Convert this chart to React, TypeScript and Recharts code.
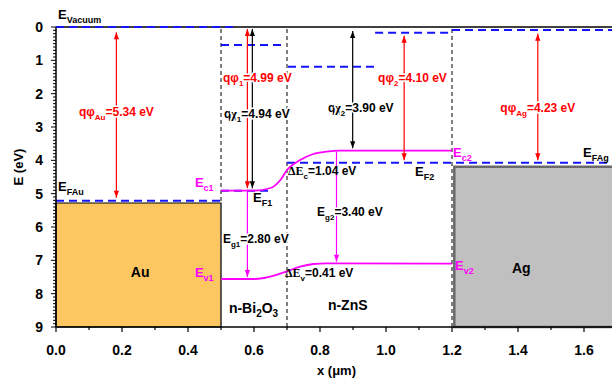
import React from "react";
import {
  ComposedChart,
  Line,
  XAxis,
  YAxis,
  ReferenceLine,
  ReferenceArea,
  ReferenceDot,
} from "recharts";

// band edges (x in um, e in eV below vacuum)
const ecBand = [
  { x: 0.5, e: 4.91 },
  { x: 0.6, e: 4.91 },
  { x: 0.65, e: 4.83 },
  { x: 0.68, e: 4.59 },
  { x: 0.7, e: 4.29 },
  { x: 0.74, e: 3.99 },
  { x: 0.78, e: 3.81 },
  { x: 0.82, e: 3.74 },
  { x: 0.86, e: 3.71 },
  { x: 1.2, e: 3.71 },
];

const evBand = [
  { x: 0.5, e: 7.56 },
  { x: 0.6, e: 7.56 },
  { x: 0.63, e: 7.53 },
  { x: 0.66, e: 7.46 },
  { x: 0.7, e: 7.33 },
  { x: 0.74, e: 7.19 },
  { x: 0.78, e: 7.11 },
  { x: 0.82, e: 7.09 },
  { x: 1.2, e: 7.1 },
];

const vacuumLevels = [
  { x1: 0, x2: 0.536, e: 0 },
  { x1: 0.5, x2: 0.694, e: 0.54 },
  { x1: 0.703, x2: 0.967, e: 1.19 },
  { x1: 0.967, x2: 1.2, e: 0.17 },
  { x1: 1.2, x2: 1.7, e: 0.09 },
];

const fermiLevels = [
  { x1: 0, x2: 0.5, e: 5.21 },
  { x1: 0.5, x2: 0.655, e: 4.91 },
  { x1: 0.7, x2: 1.7, e: 4.07 },
];

const metals = [
  { x1: 0, x2: 0.5, top: 5.28, bottom: 9, fill: "#FCC660", stroke: "#000" },
  { x1: 1.207, x2: 1.7, top: 4.19, bottom: 9, fill: "#C0C0C0", stroke: "#6a6a6a" },
];

const interfaces = [0.5, 0.7, 1.2];

const arrows = [
  { x: 0.183, e1: 0.16, e2: 5.12, color: "#FF0000", both: true },
  { x: 0.58, e1: 0.06, e2: 4.84, color: "#FF0000", both: true },
  { x: 0.595, e1: 0.06, e2: 4.84, color: "#000000", both: true },
  { x: 0.899, e1: 0.12, e2: 3.64, color: "#000000", both: true },
  { x: 1.055, e1: 0.26, e2: 4.0, color: "#FF0000", both: true },
  { x: 1.46, e1: 0.2, e2: 4.0, color: "#FF0000", both: true },
  { x: 0.58, e1: 4.95, e2: 7.5, color: "#FF00FF", both: false },
  { x: 0.85, e1: 3.74, e2: 7.04, color: "#FF00FF", both: false },
];

type Part = { t: string; sub?: boolean; serif?: boolean };

const labels: { x: number; e: number; parts: Part[]; color: string; size: number; anchor?: string; halo?: boolean }[] = [
  { x: 0.006, e: -0.24, parts: [{ t: "E" }, { t: "Vacuum", sub: true }], color: "#000", size: 13 },
  { x: 0.006, e: 4.92, parts: [{ t: "E" }, { t: "FAu", sub: true }], color: "#000", size: 13 },
  { x: 0.183, e: 2.67, parts: [{ t: "qφ" }, { t: "Au", sub: true }, { t: "=5.34 eV" }], color: "#FF0000", size: 12, anchor: "middle", halo: true },
  { x: 0.506, e: 1.65, parts: [{ t: "qφ" }, { t: "1", sub: true }, { t: "=4.99 eV" }], color: "#FF0000", size: 12, halo: true },
  { x: 0.509, e: 2.73, parts: [{ t: "q" }, { t: "χ", serif: true }, { t: "1", sub: true }, { t: "=4.94 eV" }], color: "#000", size: 12, halo: true },
  { x: 0.824, e: 2.55, parts: [{ t: "q" }, { t: "χ", serif: true }, { t: "2", sub: true }, { t: "=3.90 eV" }], color: "#000", size: 12, halo: true },
  { x: 0.976, e: 1.65, parts: [{ t: "qφ" }, { t: "2", sub: true }, { t: "=4.10 eV" }], color: "#FF0000", size: 12, halo: true },
  { x: 1.46, e: 2.55, parts: [{ t: "qφ" }, { t: "Ag", sub: true }, { t: "=4.23 eV" }], color: "#FF0000", size: 12, anchor: "middle", halo: true },
  { x: 0.421, e: 4.8, parts: [{ t: "E" }, { t: "c1", sub: true }], color: "#FF00FF", size: 13 },
  { x: 0.421, e: 7.5, parts: [{ t: "E" }, { t: "v1", sub: true }], color: "#FF00FF", size: 13 },
  { x: 0.597, e: 5.25, parts: [{ t: "E" }, { t: "F1", sub: true }], color: "#000", size: 13 },
  { x: 1.088, e: 4.47, parts: [{ t: "E" }, { t: "F2", sub: true }], color: "#000", size: 13 },
  { x: 1.203, e: 3.9, parts: [{ t: "E" }, { t: "c2", sub: true }], color: "#FF00FF", size: 13 },
  { x: 1.597, e: 3.9, parts: [{ t: "E" }, { t: "FAg", sub: true }], color: "#000", size: 13 },
  { x: 1.209, e: 7.29, parts: [{ t: "E" }, { t: "v2", sub: true }], color: "#FF00FF", size: 13 },
  { x: 0.703, e: 4.44, parts: [{ t: "ΔE", serif: true }, { t: "c", sub: true }, { t: "=1.04 eV" }], color: "#000", size: 12 },
  { x: 0.694, e: 7.5, parts: [{ t: "ΔE", serif: true }, { t: "v", sub: true }, { t: "=0.41 eV" }], color: "#000", size: 12 },
  { x: 0.506, e: 6.48, parts: [{ t: "E" }, { t: "g1", sub: true }, { t: "=2.80 eV" }], color: "#000", size: 12, halo: true },
  { x: 0.791, e: 5.67, parts: [{ t: "E" }, { t: "g2", sub: true }, { t: "=3.40 eV" }], color: "#000", size: 12, halo: true },
  { x: 0.255, e: 7.5, parts: [{ t: "Au" }], color: "#000", size: 14, anchor: "middle" },
  { x: 1.41, e: 7.38, parts: [{ t: "Ag" }], color: "#000", size: 14, anchor: "middle" },
  { x: 0.524, e: 8.58, parts: [{ t: "n-Bi" }, { t: "2", sub: true }, { t: "O" }, { t: "3", sub: true }], color: "#000", size: 14 },
  { x: 0.824, e: 8.49, parts: [{ t: "n-ZnS" }], color: "#000", size: 14 },
];

const xTicks = [0, 0.1, 0.2, 0.3, 0.4, 0.5, 0.6, 0.7, 0.8, 0.9, 1.0, 1.1, 1.2, 1.3, 1.4, 1.5, 1.6, 1.7];
const yMajorTicks = [0, 1, 2, 3, 4, 5, 6, 7, 8, 9];
const yTicks: number[] = [];
yMajorTicks.forEach((v) => {
  for (let k = 0; k < 10 && v + k / 10 <= 9; k++) yTicks.push(Math.round((v + k / 10) * 10) / 10);
});

const FONT = "'Liberation Sans', Arial, sans-serif";

function RichText({ x, y, parts, color, size, anchor, halo }: any) {
  const sub = Math.round(size * 0.7);
  const shift = Math.round(size * 0.3);
  let down = false;
  return (
    <text
      x={x}
      y={y}
      fill={color}
      fontSize={size}
      fontWeight="bold"
      fontFamily={FONT}
      textAnchor={anchor || "start"}
      stroke={halo ? "#fff" : "none"}
      strokeWidth={halo ? 3 : 0}
      style={{ paintOrder: "stroke" }}
    >
      {parts.map((p: Part, i: number) => {
        let dy = 0;
        if (p.sub && !down) {
          dy = shift;
          down = true;
        } else if (!p.sub && down) {
          dy = -shift;
          down = false;
        }
        return (
          <tspan
            key={i}
            dy={dy}
            fontSize={p.sub ? sub : size}
            fontFamily={p.serif ? "'Liberation Serif', 'Times New Roman', serif" : FONT}
          >
            {p.t}
          </tspan>
        );
      })}
    </text>
  );
}

function arrowShape(color: string, both: boolean) {
  return (props: any) => {
    const { x1, y1, x2, y2 } = props;
    const hw = 2.6;
    const hl = 7;
    return (
      <g>
        <line x1={x1} y1={y1} x2={x2} y2={y2} stroke={color} strokeWidth={1.2} />
        {both && (
          <polygon points={`${x1},${y1} ${x1 - hw},${y1 + hl} ${x1 + hw},${y1 + hl}`} fill={color} />
        )}
        <polygon points={`${x2},${y2} ${x2 - hw},${y2 - hl} ${x2 + hw},${y2 - hl}`} fill={color} />
      </g>
    );
  };
}

function YTick(props: any) {
  const { x, y, payload } = props;
  const v = payload.value;
  const major = Math.abs(v - Math.round(v)) < 1e-6;
  return (
    <g>
      <line x1={x} x2={x - (major ? 5 : 3)} y1={y} y2={y} stroke="#000" strokeWidth={1} />
      {major && (
        <text x={x - 13} y={y} dy="0.36em" textAnchor="end" fontSize={14} fontWeight="bold" fontFamily={FONT} fill="#000">
          {Math.round(v)}
        </text>
      )}
    </g>
  );
}

function XTick(props: any) {
  const { x, y, payload } = props;
  const v = payload.value;
  const major = Math.round(v * 10) % 2 === 0;
  return (
    <g>
      <line x1={x} x2={x} y1={y} y2={y + (major ? 5 : 3)} stroke="#000" strokeWidth={1.2} />
      {major && (
        <text x={x} y={y + 28} textAnchor="middle" fontSize={14} fontWeight="bold" fontFamily={FONT} fill="#000">
          {v.toFixed(1)}
        </text>
      )}
    </g>
  );
}

export default function App() {
  return (
    <div
      style={{
        position: "absolute",
        left: 0,
        top: 0,
        width: 612,
        height: 385,
        overflow: "hidden",
        background: "#fff",
      }}
    >
      <ComposedChart width={630} height={385} margin={{ top: 27, right: 13, bottom: 28, left: 0 }}>
        <XAxis
          dataKey="x"
          type="number"
          domain={[0, 1.7]}
          ticks={xTicks}
          interval={0}
          tick={<XTick />}
          tickLine={false}
          tickSize={0}
          tickMargin={0}
          height={30}
          axisLine={{ stroke: "#000", strokeWidth: 1.5 }}
          allowDataOverflow
          label={{
            value: "x (μm)",
            position: "insideBottom",
            offset: -18,
            style: { fontSize: 13, fontWeight: "bold", fontFamily: FONT, fill: "#000" },
          }}
        />
        <YAxis
          type="number"
          reversed
          domain={[0, 9]}
          ticks={yTicks}
          interval={0}
          tick={<YTick />}
          tickLine={false}
          tickSize={0}
          tickMargin={0}
          width={56}
          axisLine={{ stroke: "#000", strokeWidth: 1.5 }}
          allowDataOverflow
          label={{
            content: (p: any) => {
              const vb = p.viewBox || { x: 0, y: 27, height: 300 };
              const cx = vb.x + 18;
              const cy = vb.y + vb.height / 2 - 10;
              return (
                <text
                  x={cx}
                  y={cy}
                  transform={`rotate(-90 ${cx} ${cy})`}
                  textAnchor="middle"
                  dy="0.35em"
                  fontSize={13}
                  fontWeight="bold"
                  fontFamily={FONT}
                  fill="#000"
                >
                  E (eV)
                </text>
              );
            },
          }}
        />

        {metals.map((m, i) => (
          <ReferenceArea
            key={"m" + i}
            x1={m.x1}
            x2={m.x2}
            y1={m.top}
            y2={m.bottom}
            fill={m.fill}
            fillOpacity={1}
            stroke={m.stroke}
            strokeWidth={i === 0 ? 1.2 : 2.5}
          />
        ))}

        <ReferenceLine y={0} stroke="#000" strokeWidth={1.5} />

        {interfaces.map((x, i) => (
          <ReferenceLine key={"i" + i} x={x} stroke="#555" strokeWidth={1.5} strokeDasharray="4 3" />
        ))}

        {vacuumLevels.map((v, i) => (
          <ReferenceLine
            key={"v" + i}
            segment={[
              { x: v.x1, y: v.e },
              { x: v.x2, y: v.e },
            ]}
            stroke="#1414FF"
            strokeWidth={2}
            strokeDasharray="8 5"
          />
        ))}

        {fermiLevels.map((v, i) => (
          <ReferenceLine
            key={"f" + i}
            segment={[
              { x: v.x1, y: v.e },
              { x: v.x2, y: v.e },
            ]}
            stroke="#1414FF"
            strokeWidth={2}
            strokeDasharray="8 5"
          />
        ))}

        <Line data={ecBand} dataKey="e" type="monotone" stroke="#FF00FF" strokeWidth={1.8} dot={false} isAnimationActive={false} />
        <Line data={evBand} dataKey="e" type="monotone" stroke="#FF00FF" strokeWidth={1.8} dot={false} isAnimationActive={false} />

        {arrows.map((a, i) => (
          <ReferenceLine
            key={"a" + i}
            segment={[
              { x: a.x, y: a.e1 },
              { x: a.x, y: a.e2 },
            ]}
            shape={arrowShape(a.color, a.both)}
          />
        ))}

        {labels.map((l, i) => (
          <ReferenceDot
            key={"l" + i}
            x={l.x}
            y={l.e}
            r={0}
            ifOverflow="visible"
            shape={(p: any) => (
              <RichText x={p.cx} y={p.cy} parts={l.parts} color={l.color} size={l.size} anchor={l.anchor} halo={l.halo} />
            )}
          />
        ))}
      </ComposedChart>
    </div>
  );
}
